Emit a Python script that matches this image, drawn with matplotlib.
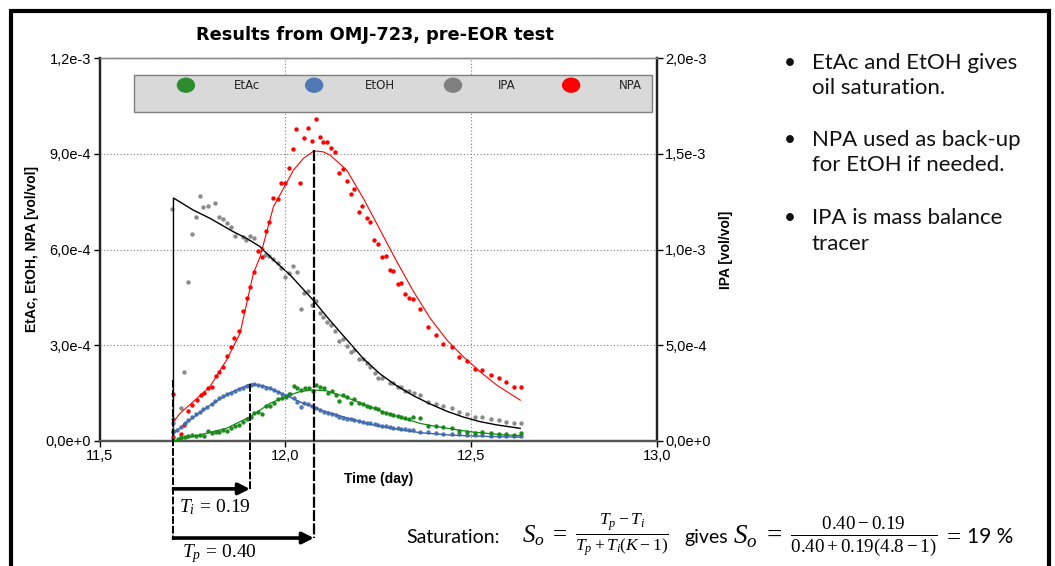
import numpy as np
import matplotlib.pyplot as plt
from matplotlib.patches import Rectangle, Ellipse

plt.rcParams['font.family'] = ['Liberation Sans', 'DejaVu Sans']
plt.rcParams['mathtext.fontset'] = 'custom'
plt.rcParams['mathtext.rm'] = 'Liberation Serif'
plt.rcParams['mathtext.it'] = 'Liberation Serif:italic'
plt.rcParams['mathtext.bf'] = 'Liberation Serif:bold'

# values in units of 1e-4 vol/vol, time in days
E4 = 1e-4

# EtAc (green)
etac_t = [11.699, 11.699, 11.710, 11.719, 11.730, 11.739, 11.750, 11.760, 11.771, 11.782,
          11.793, 11.802, 11.813, 11.822, 11.833, 11.844, 11.854, 11.865, 11.875, 11.885,
          11.896, 11.907, 11.917, 11.927, 11.938, 11.948, 11.959, 11.970, 11.980, 11.990,
          12.001, 12.011, 12.022, 12.032, 12.042, 12.053, 12.064, 12.074, 12.083, 12.094,
          12.104, 12.114, 12.125, 12.136, 12.145, 12.155, 12.165, 12.176, 12.186, 12.198,
          12.209, 12.219, 12.228, 12.240, 12.250, 12.261, 12.271, 12.282, 12.291, 12.302,
          12.312, 12.322, 12.333, 12.343, 12.363, 12.385, 12.406, 12.425, 12.448, 12.468,
          12.488, 12.511, 12.530, 12.553, 12.574, 12.593, 12.614, 12.635]
etac_v = [0.31, 0.03, 0.05, 0.14, 0.14, 0.17, 0.19, 0.17, 0.19, 0.17,
          0.31, 0.24, 0.27, 0.29, 0.34, 0.32, 0.40, 0.48, 0.50, 0.60,
          0.68, 0.76, 0.89, 0.90, 0.85, 1.11, 1.10, 1.18, 1.31, 1.34,
          1.39, 1.46, 1.72, 1.67, 1.60, 1.65, 1.67, 1.57, 1.75, 1.70,
          1.67, 1.51, 1.57, 1.44, 1.26, 1.44, 1.37, 1.18, 1.31, 1.18,
          1.15, 1.10, 1.07, 1.04, 0.99, 0.92, 0.89, 0.85, 0.81, 0.78,
          0.76, 0.73, 0.69, 0.76, 0.71, 0.48, 0.48, 0.43, 0.40, 0.32,
          0.29, 0.26, 0.29, 0.24, 0.22, 0.21, 0.19, 0.24]
etac_fit_t = [11.699, 11.752, 11.842, 11.905, 11.959, 12.004, 12.040, 12.076, 12.112, 12.147,
              12.183, 12.228, 12.273, 12.318, 12.363, 12.408, 12.452, 12.497, 12.542, 12.587, 12.635]
etac_fit_v = [0.0, 0.14, 0.40, 0.76, 1.18, 1.41, 1.55, 1.60, 1.57, 1.44,
              1.28, 1.07, 0.87, 0.71, 0.55, 0.45, 0.37, 0.29, 0.24, 0.19, 0.17]

# EtOH (blue)
etoh_t = [11.699, 11.699, 11.708, 11.719, 11.730, 11.739, 11.750, 11.760, 11.771, 11.779,
          11.790, 11.802, 11.811, 11.822, 11.833, 11.842, 11.853, 11.865, 11.875, 11.885,
          11.896, 11.907, 11.917, 11.927, 11.938, 11.948, 11.959, 11.970, 11.980, 11.990,
          12.001, 12.013, 12.022, 12.031, 12.042, 12.051, 12.062, 12.073, 12.083, 12.094,
          12.104, 12.114, 12.125, 12.136, 12.145, 12.155, 12.165, 12.176, 12.186, 12.198,
          12.209, 12.219, 12.228, 12.240, 12.250, 12.261, 12.271, 12.282, 12.291, 12.302,
          12.312, 12.322, 12.333, 12.343, 12.363, 12.385, 12.406, 12.425, 12.448, 12.468,
          12.488, 12.511, 12.530, 12.553, 12.574, 12.593, 12.614, 12.635]
etoh_v = [0.57, 0.29, 0.34, 0.45, 0.57, 0.66, 0.76, 0.85, 0.92, 1.00,
          1.08, 1.16, 1.26, 1.34, 1.41, 1.46, 1.51, 1.57, 1.62, 1.67,
          1.72, 1.76, 1.79, 1.74, 1.72, 1.67, 1.67, 1.60, 1.54, 1.47,
          1.41, 1.47, 1.34, 1.23, 1.08, 1.18, 1.15, 1.10, 1.02, 0.97,
          0.92, 0.89, 0.85, 0.81, 0.76, 0.73, 0.70, 0.68, 0.66, 0.63,
          0.60, 0.57, 0.55, 0.52, 0.50, 0.48, 0.46, 0.44, 0.42, 0.40,
          0.38, 0.37, 0.35, 0.33, 0.29, 0.27, 0.24, 0.23, 0.22, 0.21,
          0.19, 0.18, 0.18, 0.17, 0.16, 0.16, 0.16, 0.16]
etoh_fit_t = [11.699, 11.699, 11.750, 11.800, 11.850, 11.880, 11.907, 11.950, 12.000, 12.050,
              12.076, 12.100, 12.147, 12.228, 12.300, 12.363, 12.450, 12.550, 12.635]
etoh_fit_v = [0.0, 0.24, 0.72, 1.14, 1.50, 1.66, 1.79, 1.70, 1.44, 1.17,
              1.07, 0.95, 0.79, 0.52, 0.37, 0.26, 0.18, 0.14, 0.12]

# IPA (grey, right axis)
ipa_t = [11.696, 11.699, 11.719, 11.727, 11.739, 11.749, 11.759, 11.771, 11.779, 11.791,
         11.811, 11.822, 11.833, 11.842, 11.853, 11.865, 11.885, 11.894, 11.905, 11.917,
         11.937, 11.946, 11.957, 11.968, 11.979, 11.989, 12.000, 12.009, 12.020, 12.031,
         12.041, 12.050, 12.062, 12.071, 12.082, 12.094, 12.102, 12.112, 12.122, 12.134,
         12.145, 12.155, 12.165, 12.176, 12.186, 12.198, 12.209, 12.219, 12.228, 12.240,
         12.250, 12.261, 12.282, 12.291, 12.302, 12.312, 12.322, 12.333, 12.345, 12.363,
         12.385, 12.406, 12.425, 12.448, 12.468, 12.488, 12.511, 12.530, 12.553, 12.574,
         12.593, 12.614, 12.635]
ipa_v = [12.11, 1.13, 1.71, 3.62, 8.32, 10.79, 11.71, 12.79, 12.20, 12.29,
         12.41, 11.71, 11.59, 11.40, 11.19, 10.70, 10.67, 10.50, 10.70, 10.62,
         10.01, 9.71, 9.66, 9.49, 9.31, 9.05, 8.58, 8.79, 9.15, 8.84,
         6.88, 7.71, 7.85, 7.10, 7.33, 6.67, 6.49, 6.23, 6.06, 5.74,
         5.24, 5.31, 4.96, 4.66, 4.75, 4.27, 4.27, 4.06, 3.88, 3.57,
         3.27, 3.27, 3.04, 3.04, 2.80, 2.83, 2.61, 2.61, 2.52, 2.40,
         2.05, 1.93, 1.83, 1.71, 1.53, 1.41, 1.27, 1.27, 1.13, 1.10,
         1.01, 0.96, 0.96]
ipa_fit_t = [11.699, 11.699, 11.752, 11.797, 11.860, 11.896, 11.932, 11.968, 12.013, 12.076,
             12.120, 12.165, 12.210, 12.255, 12.300, 12.345, 12.390, 12.435, 12.479, 12.524,
             12.569, 12.632]
ipa_fit_v = [0.0, 12.69, 12.06, 11.63, 10.93, 10.58, 10.15, 9.45, 8.67, 7.33,
             6.30, 5.30, 4.30, 3.50, 2.88, 2.36, 1.93, 1.55, 1.25, 1.01,
             0.84, 0.66]

# NPA (red)
npa_t = [11.699, 11.699, 11.719, 11.728, 11.739, 11.750, 11.762, 11.772, 11.782, 11.793,
         11.802, 11.813, 11.822, 11.833, 11.842, 11.853, 11.862, 11.874, 11.885, 11.896,
         11.905, 11.916, 11.926, 11.937, 11.948, 11.957, 11.968, 11.979, 11.989, 11.999,
         12.009, 12.020, 12.030, 12.040, 12.050, 12.061, 12.072, 12.082, 12.093, 12.102,
         12.113, 12.124, 12.134, 12.145, 12.155, 12.165, 12.176, 12.186, 12.198, 12.207,
         12.219, 12.228, 12.239, 12.250, 12.260, 12.270, 12.281, 12.291, 12.302, 12.312,
         12.322, 12.333, 12.343, 12.363, 12.385, 12.406, 12.425, 12.448, 12.468, 12.488,
         12.511, 12.530, 12.553, 12.574, 12.593, 12.614, 12.635]
npa_v = [1.46, 0.13, 0.21, 0.50, 0.94, 1.13, 1.28, 1.44, 1.49, 1.65,
         1.70, 2.04, 2.17, 2.33, 2.66, 2.94, 3.24, 3.46, 4.07, 4.49,
         4.83, 5.30, 5.96, 5.75, 6.58, 6.87, 7.62, 7.57, 8.07, 8.07,
         8.56, 9.14, 9.77, 8.07, 9.50, 9.80, 9.40, 10.09, 9.53, 9.38,
         9.38, 9.17, 9.04, 8.41, 8.51, 8.15, 7.73, 7.89, 7.18, 7.37,
         6.98, 6.87, 6.30, 6.17, 5.75, 5.80, 5.37, 5.34, 4.92, 4.94,
         4.61, 4.47, 4.44, 4.13, 3.56, 3.33, 3.04, 2.95, 2.64, 2.50,
         2.25, 2.22, 2.08, 1.96, 1.84, 1.69, 1.69]
npa_fit_t = [11.699, 11.699, 11.717, 11.752, 11.797, 11.842, 11.878, 11.914, 11.932, 11.968,
             12.000, 12.022, 12.049, 12.077, 12.102, 12.120, 12.165, 12.210, 12.255, 12.300,
             12.345, 12.390, 12.435, 12.479, 12.524, 12.569, 12.632]
npa_fit_v = [0.0, 0.60, 0.87, 1.23, 1.70, 2.54, 3.37, 5.25, 5.77, 7.34,
             8.02, 8.49, 8.86, 9.09, 9.06, 8.96, 8.49, 7.60, 6.61, 5.62,
             4.68, 3.84, 3.16, 2.64, 2.17, 1.75, 1.28]

# tracer arrival / peak times (days) and peak values (1e-4)
t_start = 11.699
t_peak_etoh, v_peak_etoh = 11.905, 1.79
t_peak_npa, v_peak_npa = 12.077, 9.12

left_ticks = [0, 3e-4, 6e-4, 9e-4, 1.2e-3]
left_labels = ['0,0e+0', '3,0e-4', '6,0e-4', '9,0e-4', '1,2e-3']
right_ticks = [0, 5e-4, 1e-3, 1.5e-3, 2e-3]
right_labels = ['0,0e+0', '5,0e-4', '1,0e-3', '1,5e-3', '2,0e-3']
x_ticks = [11.5, 12.0, 12.5, 13.0]
x_labels = ['11,5', '12,0', '12,5', '13,0']

legend_names = ['EtAc', 'EtOH', 'IPA', 'NPA']
legend_colors = ['#2e8b2e', '#4f78b5', '#808080', '#ff0000']

c_green = '#1f8a1f'
c_blue = '#4f78b5'
c_grey = '#8a8a8a'
c_red = '#ff0000'

W, H = 1055, 566
fig = plt.figure(figsize=(W / 100, H / 100), dpi=100)
ax = fig.add_axes([99.5 / W, 1 - 441 / H, 557.5 / W, 383 / H])
ax2 = ax.twinx()
ax.set_zorder(ax2.get_zorder() + 1)
ax.patch.set_visible(False)

ax.set_xlim(11.5, 13.0)
ax.set_ylim(0, 1.2e-3)
ax2.set_ylim(0, 2e-3)

# IPA on right axis
ax2.scatter(ipa_t, np.array(ipa_v) * E4, s=10, color=c_grey, lw=0, zorder=2)
ax2.plot(ipa_fit_t, np.array(ipa_fit_v) * E4, color='black', lw=1.0, zorder=3)

ax.scatter(npa_t, np.array(npa_v) * E4, s=10, color=c_red, lw=0, zorder=3)
ax.plot(npa_fit_t, np.array(npa_fit_v) * E4, color=c_red, lw=0.8, zorder=4)
ax.scatter(etoh_t, np.array(etoh_v) * E4, s=10, color=c_blue, lw=0, zorder=3)
ax.plot(etoh_fit_t, np.array(etoh_fit_v) * E4, color='#3f66aa', lw=1.0, zorder=4)
ax.scatter(etac_t, np.array(etac_v) * E4, s=10, color=c_green, lw=0, zorder=3)
ax.plot(etac_fit_t, np.array(etac_fit_v) * E4, color='#118811', lw=0.9, zorder=4)

# grid
ax.grid(True, color='#7f7f7f', linestyle=(0, (1, 2)), linewidth=0.8, zorder=0)

# ticks / labels
ax.set_xticks(x_ticks)
ax.set_xticklabels(x_labels)
ax.set_yticks(left_ticks)
ax.set_yticklabels(left_labels)
ax2.set_yticks(right_ticks)
ax2.set_yticklabels(right_labels)
for a in (ax, ax2):
    a.tick_params(axis='both', labelsize=10.5, length=4.5, width=1.0, pad=1.5, direction='out')
ax.set_xlabel('Time (day)', fontsize=10, fontweight='bold', labelpad=6)
ax.set_ylabel('EtAc, EtOH, NPA [vol/vol]', fontsize=10, fontweight='bold', labelpad=5)
ax2.set_ylabel('IPA [vol/vol]', fontsize=10, fontweight='bold', labelpad=6)

for a in (ax, ax2):
    a.spines['top'].set_color('#8c8c8c')
    a.spines['top'].set_linewidth(1.0)
    a.spines['left'].set_linewidth(1.6)
    a.spines['left'].set_color('#222222')
    a.spines['right'].set_linewidth(1.6)
    a.spines['right'].set_color('#222222')
    a.spines['bottom'].set_linewidth(1.6)
    a.spines['bottom'].set_color('#555555')

# legend bar
ax.add_patch(Rectangle((0.062, 0.859), 0.929, 0.097, transform=ax.transAxes,
                       facecolor='#d9d9d9', edgecolor='#7f7f7f', lw=1.0, zorder=6))
marker_x = [0.155, 0.385, 0.634, 0.846]
label_x = [0.264, 0.503, 0.731, 0.953]
for name, col, mx, lx in zip(legend_names, legend_colors, marker_x, label_x):
    ax.add_patch(Ellipse((mx, 0.929), 0.033, 0.040, transform=ax.transAxes,
                         facecolor=col, edgecolor='none', zorder=7))
    ax.text(lx, 0.929, name, transform=ax.transAxes, ha='center', va='center',
            fontsize=8.5, family='DejaVu Sans', color='#222222', zorder=7)

# breakthrough / peak markers and arrows
ax.plot([t_start, t_start], [1.91e-4, -3.1e-4], color='black', lw=1.4,
        linestyle=(0, (4, 1)), clip_on=False, zorder=5)
ax.plot([t_peak_etoh, t_peak_etoh], [v_peak_etoh * E4, -1.5e-4], color='black', lw=1.4,
        linestyle=(0, (4, 1)), clip_on=False, zorder=5)
ax.plot([t_peak_npa, t_peak_npa], [v_peak_npa * E4, -3.04e-4], color='black', lw=1.6,
        linestyle=(0, (5, 1)), clip_on=False, zorder=5)
ax.annotate('', xy=(t_peak_etoh, -1.5e-4), xytext=(t_start, -1.5e-4),
            arrowprops=dict(arrowstyle='-|>', lw=2.6, color='black', mutation_scale=17,
                            shrinkA=0, shrinkB=0), annotation_clip=False)
ax.annotate('', xy=(t_peak_npa, -3.04e-4), xytext=(t_start, -3.04e-4),
            arrowprops=dict(arrowstyle='-|>', lw=2.6, color='black', mutation_scale=17,
                            shrinkA=0, shrinkB=0), annotation_clip=False)
ax.text(11.714, -2.07e-4, r'$T_i\,=\,0.19$', fontsize=14, va='center', ha='left',
        clip_on=False)
ax.text(11.722, -3.53e-4, r'$T_p\,=\,0.40$', fontsize=14, va='center', ha='left',
        clip_on=False)

# title
fig.text(375 / W, 1 - 35 / H, 'Results from OMJ-723, pre-EOR test', ha='center', va='center',
         fontsize=12.8, fontweight='bold', family='DejaVu Sans')

# bullet points
bullet_lines = [('EtAc and EtOH gives', 63, True), ('oil saturation.', 88, False),
                ('NPA used as back-up', 140, True), ('for EtOH if needed.', 165, False),
                ('IPA is mass balance', 218, True), ('tracer', 244, False)]
for txt, by, first in bullet_lines:
    if first:
        fig.text(790 / W, 1 - by / H, '\u2022', ha='center', va='center', fontsize=15,
                 family='Lato', color='#111111')
    fig.text(812 / W, 1 - by / H, txt, ha='left', va='center', fontsize=16,
             family='Lato', color='#111111')

# saturation formula, piece by piece
base = 1 - 543 / H
fig.text(406 / W, base, 'Saturation:', ha='left', va='baseline', fontsize=14, family='Lato')
fig.text(522 / W, base, r'$S_o\;=\;\frac{T_p - T_i}{T_p + T_i(K-1)}$', ha='left',
         va='baseline', fontsize=18)
fig.text(684 / W, base, 'gives', ha='left', va='baseline', fontsize=14, family='Lato')
fig.text(733 / W, base, r'$S_o\;=\;\frac{0.40 - 0.19}{0.40 + 0.19(4.8-1)}$', ha='left',
         va='baseline', fontsize=19.5)
fig.text(943 / W, base, r'$=$', ha='left', va='baseline', fontsize=18)
fig.text(967 / W, base, '19 %', ha='left', va='baseline', fontsize=15, family='Lato')

# slide frame
fig.patches.append(Rectangle((11 / W, -0.1), 1038 / W, 1.1 - 11 / H, transform=fig.transFigure,
                             fill=False, edgecolor='black', lw=3.0))

fig.savefig('out.png', dpi=100)
